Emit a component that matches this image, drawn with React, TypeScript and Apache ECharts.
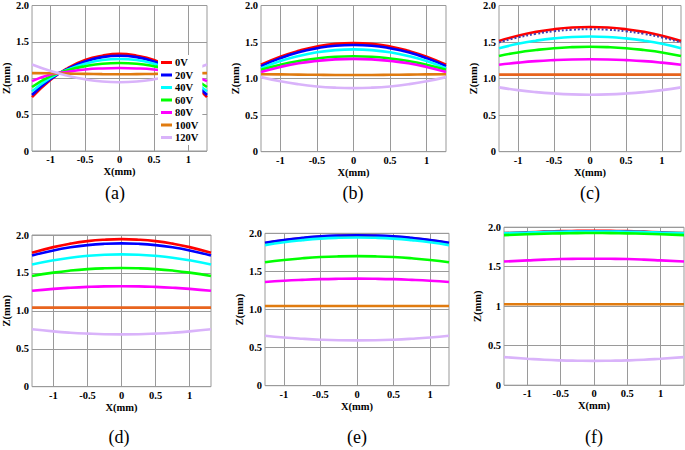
import React, { useEffect, useRef } from 'react';
import * as echarts from 'echarts';

const voltages = ['0V', '20V', '40V', '60V', '80V', '100V', '120V'];
const colors = ['#ff0000', '#0000ff', '#00ffff', '#00ff00', '#ff00ff', '#e07b10', '#d9b3fa'];
const xTicks = [-1, -0.5, 0, 0.5, 1];
const panelLabels = ['(a)', '(b)', '(c)', '(d)', '(e)', '(f)'];

// x sample positions per panel (mm)
const xsA = [-1.27, -1, -0.75, -0.5, -0.25, 0, 0.25, 0.5, 0.75, 1, 1.27];
const xsB = [-1.265, -1, -0.75, -0.5, -0.25, 0, 0.25, 0.5, 0.75, 1, 1.265];
const xsC = [-1.264, -1, -0.75, -0.5, -0.25, 0, 0.25, 0.5, 0.75, 1, 1.264];
const xsD = [-1.314, -1, -0.75, -0.5, -0.25, 0, 0.25, 0.5, 0.75, 1, 1.314];
const xsE = [-1.26, -1, -0.75, -0.5, -0.25, 0, 0.25, 0.5, 0.75, 1, 1.26];
const xsF = [-1.353, -1, -0.75, -0.5, -0.25, 0, 0.25, 0.5, 0.75, 1, 1.353];

// Panel (a) Z(mm)
const a0 = [0.74, 0.98, 1.14, 1.25, 1.31, 1.335, 1.31, 1.25, 1.14, 0.98, 0.74];
const a20 = [0.77, 0.99, 1.13, 1.23, 1.29, 1.31, 1.29, 1.23, 1.13, 0.99, 0.77];
const a40 = [0.82, 1.01, 1.12, 1.2, 1.25, 1.265, 1.25, 1.2, 1.12, 1.01, 0.82];
const a60 = [0.88, 1.03, 1.11, 1.165, 1.2, 1.21, 1.2, 1.165, 1.11, 1.03, 0.88];
const a80 = [0.96, 1.05, 1.09, 1.12, 1.135, 1.14, 1.135, 1.12, 1.09, 1.05, 0.96];
const a100 = [1.07, 1.068, 1.064, 1.06, 1.057, 1.055, 1.057, 1.06, 1.064, 1.068, 1.07];
const a120 = [1.19, 1.1, 1.035, 0.985, 0.955, 0.946, 0.955, 0.985, 1.035, 1.1, 1.19];

// Panel (b)
const b0 = [1.19, 1.3, 1.38, 1.44, 1.475, 1.485, 1.475, 1.44, 1.38, 1.3, 1.19];
const b20 = [1.17, 1.28, 1.36, 1.415, 1.45, 1.46, 1.45, 1.415, 1.36, 1.28, 1.17];
const b40 = [1.14, 1.24, 1.31, 1.36, 1.39, 1.4, 1.39, 1.36, 1.31, 1.24, 1.14];
const b60 = [1.12, 1.19, 1.24, 1.275, 1.298, 1.305, 1.298, 1.275, 1.24, 1.19, 1.12];
const b80 = [1.09, 1.16, 1.21, 1.24, 1.263, 1.27, 1.263, 1.24, 1.21, 1.16, 1.09];
const b100 = [1.06, 1.058, 1.055, 1.052, 1.05, 1.05, 1.05, 1.052, 1.055, 1.058, 1.06];
const b120 = [1.02, 0.963, 0.922, 0.893, 0.876, 0.87, 0.876, 0.893, 0.922, 0.963, 1.02];

// Panel (c)
const c0 = [1.515, 1.587, 1.639, 1.676, 1.698, 1.705, 1.698, 1.676, 1.639, 1.587, 1.515];
const c20 = [1.495, 1.563, 1.612, 1.647, 1.668, 1.675, 1.668, 1.647, 1.612, 1.563, 1.495];
const c40 = [1.415, 1.476, 1.519, 1.55, 1.569, 1.575, 1.569, 1.55, 1.519, 1.476, 1.415];
const c60 = [1.31, 1.358, 1.391, 1.416, 1.43, 1.435, 1.43, 1.416, 1.391, 1.358, 1.31];
const c80 = [1.19, 1.218, 1.239, 1.253, 1.262, 1.265, 1.262, 1.253, 1.239, 1.218, 1.19];
const c100 = [1.055, 1.055, 1.055, 1.055, 1.055, 1.055, 1.055, 1.055, 1.055, 1.055, 1.055];
const c120 = [0.88, 0.842, 0.815, 0.796, 0.784, 0.78, 0.784, 0.796, 0.815, 0.842, 0.88];

// Panel (d)
const d0 = [1.765, 1.84, 1.886, 1.919, 1.938, 1.945, 1.938, 1.919, 1.886, 1.84, 1.765];
const d20 = [1.73, 1.797, 1.838, 1.867, 1.884, 1.89, 1.884, 1.867, 1.838, 1.797, 1.73];
const d40 = [1.61, 1.666, 1.701, 1.725, 1.74, 1.745, 1.74, 1.725, 1.701, 1.666, 1.61];
const d60 = [1.46, 1.504, 1.531, 1.55, 1.561, 1.565, 1.561, 1.55, 1.531, 1.504, 1.46];
const d80 = [1.265, 1.29, 1.305, 1.316, 1.323, 1.325, 1.323, 1.316, 1.305, 1.29, 1.265];
const d100 = [1.042, 1.042, 1.042, 1.042, 1.042, 1.042, 1.042, 1.042, 1.042, 1.042, 1.042];
const d120 = [0.757, 0.729, 0.712, 0.7, 0.692, 0.69, 0.692, 0.7, 0.712, 0.729, 0.757];

// Panel (e)
const e0 = [1.87, 1.908, 1.935, 1.955, 1.966, 1.97, 1.966, 1.955, 1.935, 1.908, 1.87];
const e20 = [1.875, 1.913, 1.94, 1.96, 1.971, 1.975, 1.971, 1.96, 1.94, 1.913, 1.875];
const e40 = [1.845, 1.883, 1.91, 1.93, 1.941, 1.945, 1.941, 1.93, 1.91, 1.883, 1.845];
const e60 = [1.62, 1.65, 1.672, 1.688, 1.697, 1.7, 1.697, 1.688, 1.672, 1.65, 1.62];
const e80 = [1.36, 1.377, 1.389, 1.398, 1.403, 1.405, 1.403, 1.398, 1.389, 1.377, 1.36];
const e100 = [1.045, 1.045, 1.045, 1.045, 1.045, 1.045, 1.045, 1.045, 1.045, 1.045, 1.045];
const e120 = [0.655, 0.632, 0.616, 0.604, 0.597, 0.595, 0.597, 0.604, 0.616, 0.632, 0.655];

// Panel (f)
const f0 = [1.925, 1.936, 1.944, 1.95, 1.953, 1.955, 1.953, 1.95, 1.944, 1.936, 1.925];
const f20 = [1.92, 1.93, 1.938, 1.943, 1.946, 1.947, 1.946, 1.943, 1.938, 1.93, 1.92];
const f40 = [1.925, 1.933, 1.939, 1.943, 1.945, 1.946, 1.945, 1.943, 1.939, 1.933, 1.925];
const f60 = [1.9, 1.91, 1.917, 1.922, 1.925, 1.926, 1.925, 1.922, 1.917, 1.91, 1.9];
const f80 = [1.565, 1.58, 1.59, 1.597, 1.6, 1.601, 1.6, 1.597, 1.59, 1.58, 1.565];
const f100 = [1.025, 1.025, 1.025, 1.025, 1.025, 1.025, 1.025, 1.025, 1.025, 1.025, 1.025];
const f120 = [0.355, 0.335, 0.322, 0.314, 0.31, 0.308, 0.31, 0.314, 0.322, 0.335, 0.355];

const panelXs = [xsA, xsB, xsC, xsD, xsE, xsF];
const panelValues = [
  [a0, a20, a40, a60, a80, a100, a120],
  [b0, b20, b40, b60, b80, b100, b120],
  [c0, c20, c40, c60, c80, c100, c120],
  [d0, d20, d40, d60, d80, d100, d120],
  [e0, e20, e40, e60, e80, e100, e120],
  [f0, f20, f40, f60, f80, f100, f120],
];

const grids = [
  { left: 24, top: 4.5, width: 183, height: 146.5 },
  { left: 261, top: 4.3, width: 185, height: 147.4 },
  { left: 499, top: 4.3, width: 182, height: 147.4 },
  { left: 27, top: 235, width: 184, height: 151.7 },
  { left: 265, top: 233.3, width: 184, height: 152.4 },
  { left: 504, top: 227.2, width: 180, height: 158 },
];
const yNameGaps = [13, 19, 14, 15, 15, 21];
const xNameGaps = [9, 11, 9, 10, 11, 13];
const captionPos = [[115, 193], [353, 193], [590, 193], [119, 437], [357, 437], [594, 437]];

const FONT = 'Liberation Serif';

export default function App() {
  const ref = useRef<HTMLDivElement>(null);
  useEffect(() => {
    document.body.style.margin = '0';
    const chart = echarts.init(ref.current!, null, { renderer: 'svg' });
    const labelStyle = { fontFamily: FONT, fontWeight: 'bold' as const, fontSize: 10.5, color: '#000' };
    const xAxes = grids.map((_, i) => {
      const xs = panelXs[i];
      const r = xs[xs.length - 1];
      return {
        type: 'value',
        gridIndex: i,
        min: -r,
        max: r,
        name: 'X(mm)',
        nameLocation: 'middle',
        nameGap: xNameGaps[i],
        nameTextStyle: { ...labelStyle },
        axisLine: { show: false },
        axisTick: { show: false, customValues: xTicks },
        axisLabel: { ...labelStyle, margin: 3, customValues: xTicks },
        splitLine: { show: true, lineStyle: { color: '#9a9a9a', width: 1 } },
      };
    });
    const yAxes = grids.map((_, i) => ({
      type: 'value',
      gridIndex: i,
      min: 0,
      max: 2,
      interval: 0.5,
      name: 'Z(mm)',
      nameLocation: 'middle',
      nameGap: yNameGaps[i],
      nameTextStyle: { ...labelStyle },
      axisLine: { show: false },
      axisTick: { show: false },
      axisLabel: {
        ...labelStyle,
        margin: 3,
        formatter: (v: number) => {
          if (v === 0) return '0';
          if (i === 5 && v === 1) return '1';
          return v.toFixed(1);
        },
      },
      splitLine: { show: true, lineStyle: { color: '#9a9a9a', width: 1 } },
    }));
    const series: any[] = [];
    panelValues.forEach((vals, p) => {
      const xs = panelXs[p];
      vals.forEach((ys, k) => {
        let lineStyle: any = { color: colors[k], width: 2.6 };
        if (p === 2 && k === 1) lineStyle = { color: '#4040b0', width: 2, type: [2, 2] };
        if ((p === 2 || p === 3) && k === 5) lineStyle = { color: '#e8641e', width: 2.6 };
        series.push({
          type: 'line',
          name: voltages[k],
          xAxisIndex: p,
          yAxisIndex: p,
          data: xs.map((x, j) => [x, ys[j]]),
          smooth: true,
          showSymbol: false,
          symbol: 'none',
          color: colors[k],
          lineStyle,
          silent: true,
        });
      });
    });
    chart.setOption({
      animation: false,
      backgroundColor: '#fff',
      grid: grids.map((g) => ({ ...g, show: true, borderColor: '#999', borderWidth: 1, backgroundColor: 'transparent' })),
      xAxis: xAxes,
      yAxis: yAxes,
      legend: {
        data: voltages,
        orient: 'vertical',
        left: 158,
        top: 55,
        itemWidth: 11,
        itemHeight: 3,
        itemGap: 1.5,
        icon: 'rect',
        backgroundColor: '#fff',
        padding: [2, 4, 2, 3],
        textStyle: { ...labelStyle, fontSize: 10.5, padding: [0, 0, 0, -2] },
        selectedMode: false,
      },
      graphic: captionPos.map((c, i) => ({
        type: 'text',
        x: c[0],
        y: c[1],
        style: {
          text: panelLabels[i],
          fontFamily: FONT,
          fontSize: 18,
          fill: '#000',
          align: 'center',
          verticalAlign: 'middle',
        },
      })),
      series,
    });
    return () => chart.dispose();
  }, []);
  return <div ref={ref} style={{ width: 685, height: 450 }} />;
}
